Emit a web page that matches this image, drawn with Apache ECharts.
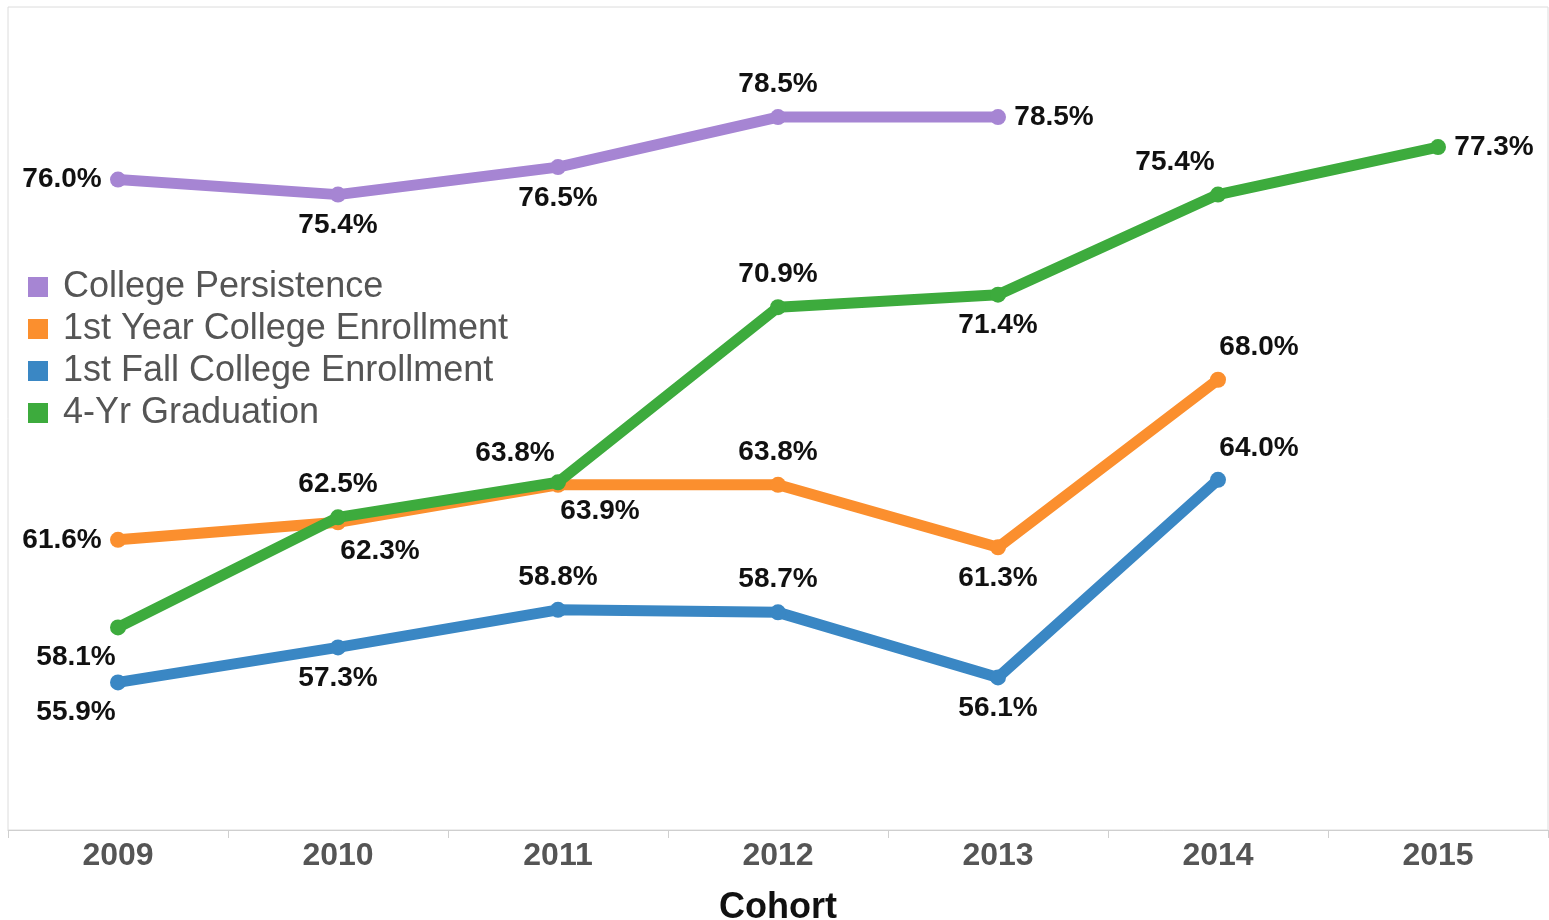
<!DOCTYPE html>
<html>
<head>
<meta charset="utf-8">
<script src="https://cdn.jsdelivr.net/npm/echarts@6/dist/echarts.min.js"></script>
<style>
html,body{margin:0;padding:0;background:#fff;}
#main{width:1549px;height:920px;}
</style>
</head>
<body>
<div id="main"></div>
<script>
const categories = ['2009','2010','2011','2012','2013','2014','2015'];
const seriesNames = ['College Persistence','1st Year College Enrollment','1st Fall College Enrollment','4-Yr Graduation'];
const persistence = [76.0, 75.4, 76.5, 78.5, 78.5, null, null];
const firstYear   = [61.6, 62.3, 63.8, 63.8, 61.3, 68.0, null];
const firstFall   = [55.9, 57.3, 58.8, 58.7, 56.1, 64.0, null];
const grad4yr     = [58.1, 62.5, 63.9, 70.9, 71.4, 75.4, 77.3];

const colors = ['#a685d3', '#fb8f2e', '#3a87c4', '#3dab3d'];

// label placement codes per point (layout only)
const placement = [
  ['L','B','B','T','R'],
  ['L','BR','TL','T','B','TR'],
  ['BL','B','T','T','B','TR'],
  ['BL','T','BR','T','B','TL','R']
];
const offsets = {
  L:[-56,0], R:[56,0], T:[0,-33], B:[0,31],
  TL:[-43,-32], TR:[41,-32], BL:[-42,30], BR:[42,29]
};

const values = [persistence, firstYear, firstFall, grad4yr];

const series = values.map((arr, si) => ({
  name: seriesNames[si],
  type: 'line',
  symbol: 'circle',
  symbolSize: 16,
  connectNulls: false,
  lineStyle: {width: 11, color: colors[si]},
  itemStyle: {color: colors[si]},
  emphasis: {disabled: true},
  z: 2 + si,
  data: arr.map((v, i) => {
    if (v === null) return '-';
    const p = placement[si][i];
    return {
      value: v,
      label: {
        show: true,
        position: 'inside',
        offset: offsets[p],
        formatter: (d) => d.value.toFixed(1) + '%',
        fontFamily: 'Liberation Sans, Arial, sans-serif',
        fontWeight: 'bold',
        fontSize: 28,
        color: '#111'
      }
    };
  })
}));

const chart = echarts.init(document.getElementById('main'), null, {renderer: 'canvas'});
chart.setOption({
  animation: false,
  color: colors,
  grid: {
    left: 8, right: 1, top: 7, bottom: 90,
    containLabel: false,
    outerBoundsMode: 'none',
    show: true, borderColor: '#dcdcdc', borderWidth: 1
  },
  legend: {
    orient: 'vertical',
    left: 28,
    top: 269,
    padding: 0,
    data: seriesNames,
    icon: 'rect',
    itemWidth: 20,
    itemHeight: 20,
    itemGap: 6,
    textStyle: {
      fontFamily: 'Liberation Sans, Arial, sans-serif',
      fontSize: 36,
      lineHeight: 36,
      color: '#555',
      padding: [0, 0, 0, 10]
    }
  },
  xAxis: {
    type: 'category',
    data: categories,
    boundaryGap: true,
    name: 'Cohort',
    nameLocation: 'middle',
    nameGap: 60,
    nameTextStyle: {
      fontFamily: 'Liberation Sans, Arial, sans-serif',
      fontWeight: 'bold',
      fontSize: 36,
      color: '#111'
    },
    axisLine: {lineStyle: {color: '#cfcfcf', width: 1}},
    axisTick: {show: true, length: 8, lineStyle: {color: '#cfcfcf'}},
    axisLabel: {
      margin: 10,
      fontFamily: 'Liberation Sans, Arial, sans-serif',
      fontWeight: 'bold',
      fontSize: 32,
      color: '#555'
    },
    splitLine: {show: false}
  },
  yAxis: {
    type: 'value',
    min: 50,
    max: 82.9,
    show: false,
    splitLine: {show: false}
  },
  series: series
});
</script>
</body>
</html>
